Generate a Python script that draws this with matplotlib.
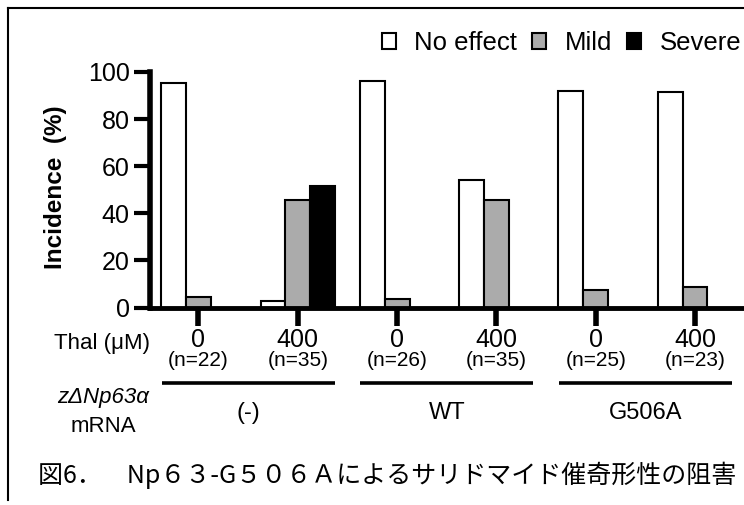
import matplotlib.pyplot as plt
from matplotlib.patches import Patch
from matplotlib.transforms import blended_transform_factory
import numpy as np

plt.rcParams['font.family'] = ['Liberation Sans', 'DejaVu Sans']

# incidence (%) per condition
doses = ['0', '400', '0', '400', '0', '400']
n_labels = ['(n=22)', '(n=35)', '(n=26)', '(n=35)', '(n=25)', '(n=23)']
no_effect = [95.5, 2.9, 96.2, 54.3, 92.0, 91.3]
mild = [4.5, 45.7, 3.8, 45.7, 7.5, 8.7]
severe = [0, 51.4, 0, 0, 0, 0]
groups = ['(-)', 'WT', 'G506A']
series_names = ['No effect', 'Mild', 'Severe']
series_colors = ['white', '#ababab', 'black']

W, H = 744, 505
fig = plt.figure(figsize=(W / 100, H / 100), dpi=100)

# axes placed in pixel terms (left spine ~x150, y=0 at ~307, y=100 at ~72)
ax = fig.add_axes([150 / W, 1 - 307.5 / H, (W - 150) / W, (307.5 - 72) / H])

x = np.arange(len(doses))
bw = 0.25
for k, (vals, col, name) in enumerate(zip([no_effect, mild, severe], series_colors, series_names)):
    ax.bar(x + (k - 1) * bw, vals, bw, color=col, edgecolor='black', linewidth=1.5,
           label=name, zorder=2)

ax.set_xlim(-0.488, 5.493)
ax.set_ylim(0, 100)
ax.set_yticks([0, 20, 40, 60, 80, 100])
ax.tick_params(axis='y', direction='out', length=11.5, width=3, labelsize=18, pad=3)
ax.set_xticks(x)
ax.set_xticklabels(doses)
ax.tick_params(axis='x', direction='out', length=13, width=4, labelsize=18, pad=2)

for s in ['top', 'right']:
    ax.spines[s].set_visible(False)
ax.spines['left'].set_linewidth(4)
ax.spines['bottom'].set_linewidth(3.5)
ax.spines['left'].set_capstyle('projecting')

ax.set_ylabel('Incidence  (%)', fontsize=17.5, fontweight='bold')
ax.yaxis.set_label_coords((67 - 150) / 594, 0.51)

# annotations under the axis: data x, pixel-derived axes y
tr = blended_transform_factory(ax.transData, ax.transAxes)
def ay(py):
    return (307.5 - py) / 235.5

for xi, lab in zip(x, n_labels):
    ax.text(xi, ay(360), lab, transform=tr, ha='center', va='center', fontsize=15)

for gi, g in enumerate(groups):
    c = 2 * gi + 0.5
    ax.plot([c - 0.87, c + 0.87], [ay(383), ay(383)], transform=tr, color='black',
            linewidth=2.6, clip_on=False, solid_capstyle='butt')
    ax.text(c, ay(413), g, transform=tr, ha='center', va='center', fontsize=17)

ax.text(-0.97, ay(343), 'Thal (μM)', transform=tr, ha='center', va='center', fontsize=16)
ax.text(-0.96, ay(398), 'zΔNp63α', transform=tr, ha='center', va='center', fontsize=16,
        style='italic')
ax.text(-0.96, ay(427), 'mRNA', transform=tr, ha='center', va='center', fontsize=16)

# legend
handles = [Patch(facecolor=c, edgecolor='black', linewidth=1.5) for c in series_colors]
ax.legend(handles, series_names, loc='center right', bbox_to_anchor=(741 / W, 1 - 43 / H),
          bbox_transform=fig.transFigure, ncol=3, frameon=False, fontsize=18.5,
          handlelength=0.55, handleheight=0.55, handletextpad=0.7, columnspacing=0.6,
          borderpad=0, borderaxespad=0)

# caption
fig.text(38 / W, 1 - 475 / H, '図6．　Np６３-G５０６Ａによるサリドマイド催奇形性の阻害',
         ha='left', va='center', fontsize=18, family=['Noto Sans CJK JP', 'DejaVu Sans'])

# outer frame (top and left edges visible)
fig.add_artist(plt.Line2D([8 / W, 1], [1 - 8 / H, 1 - 8 / H], transform=fig.transFigure,
                          color='black', linewidth=1.5))
fig.add_artist(plt.Line2D([8 / W, 8 / W], [1 - 8 / H, 1 - 500 / H], transform=fig.transFigure,
                          color='black', linewidth=1.5))

fig.savefig('out.png', dpi=100)
